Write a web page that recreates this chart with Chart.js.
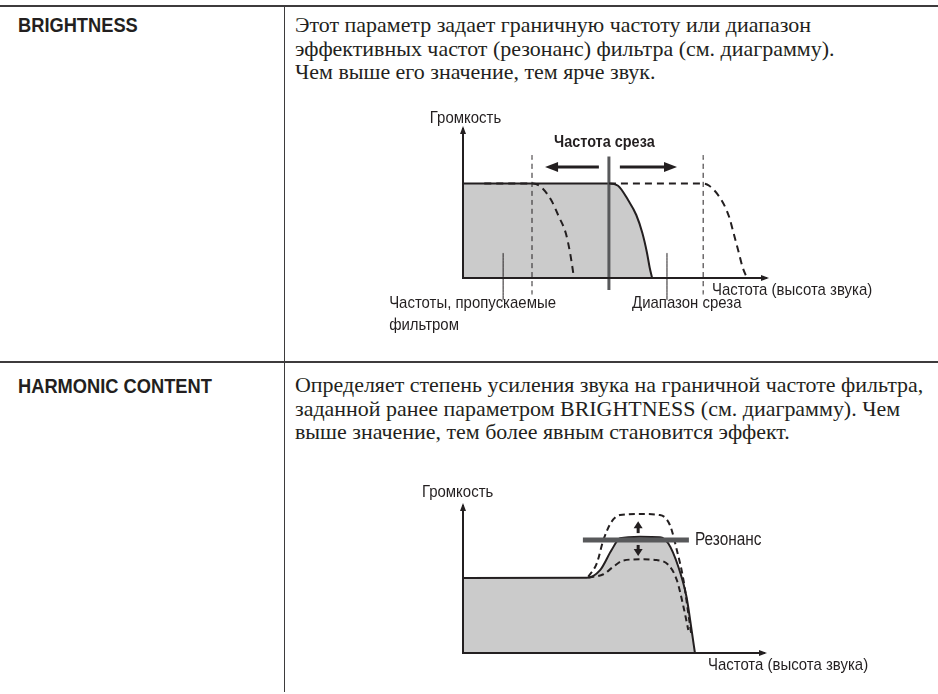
<!DOCTYPE html>
<html>
<head>
<meta charset="utf-8">
<script src="https://cdn.jsdelivr.net/npm/chart.js@4.4.1/dist/chart.umd.min.js"></script>
<style>
  html, body { margin: 0; padding: 0; background: #fff; }
  #page { position: relative; width: 938px; height: 694px; overflow: hidden; color: #231f20; }
  .rule { position: absolute; background: #3d3b3c; }
  .name { position: absolute; left: 18px; font-family: "Liberation Sans", Arial, sans-serif; font-weight: bold;
          font-size: 21px; line-height: 24px; transform: scaleX(0.87); transform-origin: left top; white-space: nowrap; }
  .body { position: absolute; left: 295px; font-family: "Liberation Serif", "Times New Roman", serif;
          font-size: 21px; line-height: 23.5px; transform: scaleX(1.045); transform-origin: left top; white-space: nowrap; }
  canvas { position: absolute; }
</style>
</head>
<body>
<div id="page">
  <div class="rule" style="left:0;top:5px;width:938px;height:2px"></div>
  <div class="rule" style="left:284px;top:5px;width:1px;height:687px"></div>
  <div class="rule" style="left:0;top:361px;width:938px;height:1.5px"></div>

  <div class="name" style="top:12.5px">BRIGHTNESS</div>
  <div class="body" style="top:14px">Этот параметр задает граничную частоту или диапазон<br>эффективных частот (резонанс) фильтра (см. диаграмму).<br>Чем выше его значение, тем ярче звук.</div>

  <div class="name" style="top:373.5px">HARMONIC CONTENT</div>
  <div class="body" style="top:374px">Определяет степень усиления звука на граничной частоте фильтра,<br>заданной ранее параметром BRIGHTNESS (см. диаграмму). Чем<br>выше значение, тем более явным становится эффект.</div>

  <canvas id="cutoff" width="530" height="245" style="left:370px;top:105px"></canvas>
  <canvas id="resonance" width="530" height="215" style="left:370px;top:470px"></canvas>
</div>

<script>
// ---- BRIGHTNESS diagram (frequency 0..100, volume 0..100) ----
const passband = [[0, 63], [48, 63], [51, 61.5], [54.3, 52], [57, 42], [59, 30], [60.5, 17], [61.4, 7], [62.2, 0]];
const lowerCutoff = [[7, 63], [23, 63], [25.5, 61], [29, 52], [31.5, 41], [33.8, 30], [35.2, 17], [36, 7], [36.5, 0]];
const upperCutoff = [[48, 63], [79, 63], [81, 61.5], [85, 52], [87.5, 41], [89, 30], [90.7, 17], [92, 7], [93.4, 0]];
const cutoffMarker = [[48, 81], [48, -8]];
const cutoffGuides = [22.7, 79];
const cutoffLeaders = [13.2, 67.1];
const cutoffArrows = [[44.7, 27], [51.6, 70.4]];
const cutoffLabels = ['Громкость', 'Частота среза', 'Частота (высота звука)', 'Частоты, пропускаемые', 'фильтром', 'Диапазон среза'];

// ---- HARMONIC CONTENT diagram ----
const resonantCurve = [[0, 50.7], [41, 50.9], [45.4, 56], [49.2, 69.6], [52, 77.5], [58.6, 78.6], [65.2, 78.2], [68, 74],
  [71.3, 58.3], [74, 38], [75.7, 15.5], [76.8, 0]];
const resonanceHigh = [[41.5, 51.6], [44.3, 60.6], [46.5, 76.4], [49.2, 88.7], [52, 93.2], [58.6, 93.9], [65.2, 93.2],
  [68.5, 86.5], [70.8, 69.6], [73, 49.3], [74.6, 26.8], [75.7, 11]];
const resonanceLow = [[41.5, 51], [46.5, 53.2], [49.8, 58.3], [53, 62.4], [58.6, 63.3], [64.1, 62.8], [68, 59.5],
  [70.8, 49.3], [73, 31.3], [74.6, 15.5]];
const resonanceBar = [[39.7, 76.4], [74.8, 76.4]];
const resonanceArrows = [[58, 81, 89], [58, 73, 65.5]];
const resonanceLabels = ['Громкость', 'Резонанс', 'Частота (высота звука)'];

const INK = '#231f20';
const pts = arr => arr.map(p => ({ x: p[0], y: p[1] }));

function line(data, opts) {
  return Object.assign({
    data: pts(data), borderColor: INK, borderWidth: 2, pointRadius: 0, fill: false,
    clip: false, cubicInterpolationMode: 'monotone'
  }, opts || {});
}

function axesSet() {
  return line([[0, 100], [0, 0], [100, 0]], { borderWidth: 2, cubicInterpolationMode: 'default', tension: 0, order: 0 });
}

function head(ctx, x, y, dx, dy, len, half) {
  // filled triangle pointing along (dx, dy)
  const nx = -dy, ny = dx;
  ctx.beginPath();
  ctx.moveTo(x, y);
  ctx.lineTo(x - dx * len + nx * half, y - dy * len + ny * half);
  ctx.lineTo(x - dx * len - nx * half, y - dy * len - ny * half);
  ctx.closePath();
  ctx.fill();
}

function label(ctx, text, x, y, align, size, bold, squeeze) {
  ctx.save();
  ctx.font = (bold ? 'bold ' : '') + size + 'px "Liberation Sans", Arial, sans-serif';
  ctx.fillStyle = INK;
  ctx.textBaseline = 'alphabetic';
  ctx.textAlign = 'left';
  const w = ctx.measureText(text).width * squeeze;
  const left = align === 'center' ? x - w / 2 : x;
  ctx.translate(left, y);
  ctx.scale(squeeze, 1);
  ctx.fillText(text, 0, 0);
  ctx.restore();
}

function axisHeads(ctx, xs, ys) {
  ctx.fillStyle = INK;
  head(ctx, xs.getPixelForValue(0), ys.getPixelForValue(100) - 2, 0, -1, 8, 3);
  head(ctx, xs.getPixelForValue(100) + 2, ys.getPixelForValue(0), 1, 0, 8, 3);
}

const cutoffDecor = {
  id: 'cutoffDecor',
  afterDatasetsDraw(chart) {
    const ctx = chart.ctx, xs = chart.scales.x, ys = chart.scales.y;
    axisHeads(ctx, xs, ys);
    ctx.fillStyle = INK;
    const ay = ys.getPixelForValue(74);
    cutoffArrows.forEach(a => {
      const x0 = xs.getPixelForValue(a[0]), x1 = xs.getPixelForValue(a[1]);
      const dir = Math.sign(x1 - x0);
      ctx.lineWidth = 3;
      ctx.strokeStyle = INK;
      ctx.beginPath();
      ctx.moveTo(x0, ay);
      ctx.lineTo(x1 - dir * 10, ay);
      ctx.stroke();
      head(ctx, x1, ay, dir, 0, 13, 5);
    });
    label(ctx, cutoffLabels[0], xs.getPixelForValue(-10.9), ys.getPixelForValue(103.3), 'left', 17, false, 0.88);
    label(ctx, cutoffLabels[1], xs.getPixelForValue(46.5), ys.getPixelForValue(87.3), 'center', 17, true, 0.85);
    label(ctx, cutoffLabels[2], xs.getPixelForValue(81.9), ys.getPixelForValue(-11.5), 'left', 17, false, 0.88);
    label(ctx, cutoffLabels[3], xs.getPixelForValue(-24.3), ys.getPixelForValue(-20), 'left', 17, false, 0.88);
    label(ctx, cutoffLabels[4], xs.getPixelForValue(-24.3), ys.getPixelForValue(-34.7), 'left', 17, false, 0.88);
    label(ctx, cutoffLabels[5], xs.getPixelForValue(55.6), ys.getPixelForValue(-20), 'left', 17, false, 0.88);
  }
};

const resonanceDecor = {
  id: 'resonanceDecor',
  afterDatasetsDraw(chart) {
    const ctx = chart.ctx, xs = chart.scales.x, ys = chart.scales.y;
    axisHeads(ctx, xs, ys);
    ctx.fillStyle = INK;
    ctx.strokeStyle = INK;
    resonanceArrows.forEach(a => {
      const x = xs.getPixelForValue(a[0]);
      const y0 = ys.getPixelForValue(a[1]), y1 = ys.getPixelForValue(a[2]);
      const dir = Math.sign(y1 - y0);
      ctx.lineWidth = 3;
      ctx.beginPath();
      ctx.moveTo(x, y0);
      ctx.lineTo(x, y1 - dir * 5);
      ctx.stroke();
      head(ctx, x, y1, 0, dir, 7, 4.5);
    });
    label(ctx, resonanceLabels[0], xs.getPixelForValue(-13.6), ys.getPixelForValue(105.4), 'left', 17, false, 0.88);
    label(ctx, resonanceLabels[1], xs.getPixelForValue(76.8), ys.getPixelForValue(76.4) + 5.5, 'left', 17.5, false, 0.88);
    label(ctx, resonanceLabels[2], xs.getPixelForValue(81.1), ys.getPixelForValue(-11.5), 'left', 17, false, 0.88);
  }
};

function baseOptions(pad) {
  return {
    responsive: false,
    animation: false,
    devicePixelRatio: 1,
    layout: { padding: pad },
    plugins: { legend: { display: false }, tooltip: { enabled: false } },
    scales: {
      x: { type: 'linear', min: 0, max: 100, display: false },
      y: { type: 'linear', min: 0, max: 100, display: false }
    }
  };
}

const dashed = [7, 5];

new Chart(document.getElementById('cutoff'), {
  type: 'line',
  data: {
    datasets: [
      axesSet(),
      line(lowerCutoff, { borderDash: dashed, order: 1 }),
      line(upperCutoff, { borderDash: dashed, order: 1 }),
      line(cutoffMarker, { borderColor: '#58595b', borderWidth: 3, order: 2 }),
      line([[cutoffGuides[0], 82], [cutoffGuides[0], -11]], { borderWidth: 1, borderDash: [5, 4], order: 3 }),
      line([[cutoffGuides[1], 82], [cutoffGuides[1], -11]], { borderWidth: 1, borderDash: [5, 4], order: 3 }),
      line([[cutoffLeaders[0], 16.7], [cutoffLeaders[0], -14.7]], { borderWidth: 1, order: 3 }),
      line([[cutoffLeaders[1], 16.7], [cutoffLeaders[1], -14.7]], { borderWidth: 1, order: 3 }),
      line(passband, { fill: 'origin', backgroundColor: '#cbcbcb', order: 4 })
    ]
  },
  options: baseOptions({ left: 93, right: 133, top: 23, bottom: 72 }),
  plugins: [cutoffDecor]
});

new Chart(document.getElementById('resonance'), {
  type: 'line',
  data: {
    datasets: [
      axesSet(),
      line(resonanceBar, { borderColor: '#58595b', borderWidth: 5, order: 1 }),
      line(resonanceHigh, { borderDash: [6, 4], order: 2 }),
      line(resonanceLow, { borderDash: [6, 4], order: 2 }),
      line(resonantCurve, { fill: 'origin', backgroundColor: '#cbcbcb', order: 3 })
    ]
  },
  options: baseOptions({ left: 93, right: 135, top: 35, bottom: 32 }),
  plugins: [resonanceDecor]
});
</script>
</body>
</html>
